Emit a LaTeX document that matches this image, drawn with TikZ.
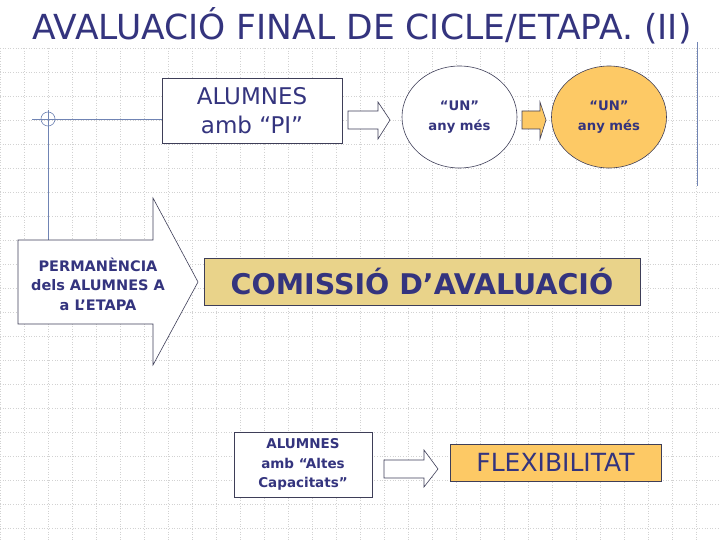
\documentclass[tikz,border=0pt]{standalone}
\usepackage{fontspec}
\setmainfont{DejaVu Sans}
\usetikzlibrary{shapes.geometric,positioning}
\definecolor{Navy}{HTML}{34347E}
\definecolor{EdgeGray}{HTML}{3E3E58}
\definecolor{LineBlue}{HTML}{7084B4}
\definecolor{GridGray}{HTML}{D2D2D2}
\definecolor{Orange}{HTML}{FDC965}
\definecolor{Khaki}{HTML}{E9D38A}

\begin{document}
\begin{tikzpicture}[x=1pt, y=-1pt,
      box/.style={draw=EdgeGray, line width=0.8pt, fill=white, align=center,
                  text=Navy, inner sep=0pt},
      oval/.style={ellipse, draw=EdgeGray, line width=0.6pt, minimum width=115pt,
                   minimum height=102pt, align=center, text=Navy,
                   font=\bfseries\fontsize{13.2}{20}\selectfont},
      barrow/.style={draw=EdgeGray, line width=0.6pt, fill=white},
      link/.style={draw=LineBlue, line width=0.8pt}
    ]
      \useasboundingbox (0,0) rectangle (720,540);
      % background grid
      \foreach \gx in {0,24,...,720}
        \draw[GridGray, dotted, line width=0.6pt] (\gx,48) -- (\gx,540);
      \foreach \gy in {48,72,...,540}
        \draw[GridGray, dotted, line width=0.6pt] (0,\gy) -- (720,\gy);

      \node[text=Navy, font=\fontsize{34.5}{40}\selectfont] (title) at (362,26)
        {AVALUACIÓ FINAL DE CICLE/ETAPA. (II)};

      % top row
      \node[box, minimum width=180pt, minimum height=65pt,
            font=\fontsize{23}{29}\selectfont] (pi) at (252,110.5) {ALUMNES\\amb “PI”};
      \node[oval, fill=white]  (un1) at (459.5,117) {“UN”\\any més};
      \node[oval, fill=Orange] (un2) at (609,117)   {“UN”\\any més};
      \draw[barrow] (348,111) -- (378,111) -- (378,102) -- (390,120)
                    -- (378,139) -- (378,129) -- (348,129) -- cycle;
      \draw[barrow, fill=Orange] (522,111) -- (540,111) -- (540,102) -- (546,120)
                    -- (540,139) -- (540,129) -- (522,129) -- cycle;

      % left side
      \coordinate (lstart) at (32,119);
      \coordinate (ltop) at (48,110);
      \coordinate (lbot) at (48,240);
      \draw[link] (lstart) -- (lstart -| pi.west);
      \draw[link] (ltop) -- (lbot);
      \draw[LineBlue, line width=0.6pt] (48,119) circle (7);
      \draw[barrow] (18,240) -- (153,240) -- (153,198) -- (198,282)
                    -- (153,365) -- (153,324) -- (18,324) -- cycle;
      \node[text=Navy, align=center, font=\bfseries\fontsize{14.5}{19.5}\selectfont]
        (perm) at (98,284) {PERMANÈNCIA\\dels ALUMNES A\\a L'ETAPA};

      \node[box, fill=Khaki, minimum width=436pt, minimum height=47pt,
            font=\bfseries\fontsize{28.5}{34}\selectfont] (com) at (422,281.5)
        {COMISSIÓ D’AVALUACIÓ};

      % bottom row
      \node[box, minimum width=138pt, minimum height=65pt,
            font=\bfseries\fontsize{13.5}{19.5}\selectfont] (altes) at (303,464.5)
        {ALUMNES\\amb “Altes\\Capacitats”};
      \draw[barrow] (384,460) -- (424,460) -- (424,450) -- (438,469)
                    -- (424,487) -- (424,478) -- (384,478) -- cycle;
      \node[box, fill=Orange, minimum width=211pt, minimum height=37pt,
            font=\fontsize{25}{30}\selectfont] (flex) at (555.5,462.5) {FLEXIBILITAT};

      % right edge
      \coordinate (rtop) at (697,42);
      \coordinate (rbot) at (697,186);
      \draw[link] (rtop) -- (rbot);
    \end{tikzpicture}
\end{document}
